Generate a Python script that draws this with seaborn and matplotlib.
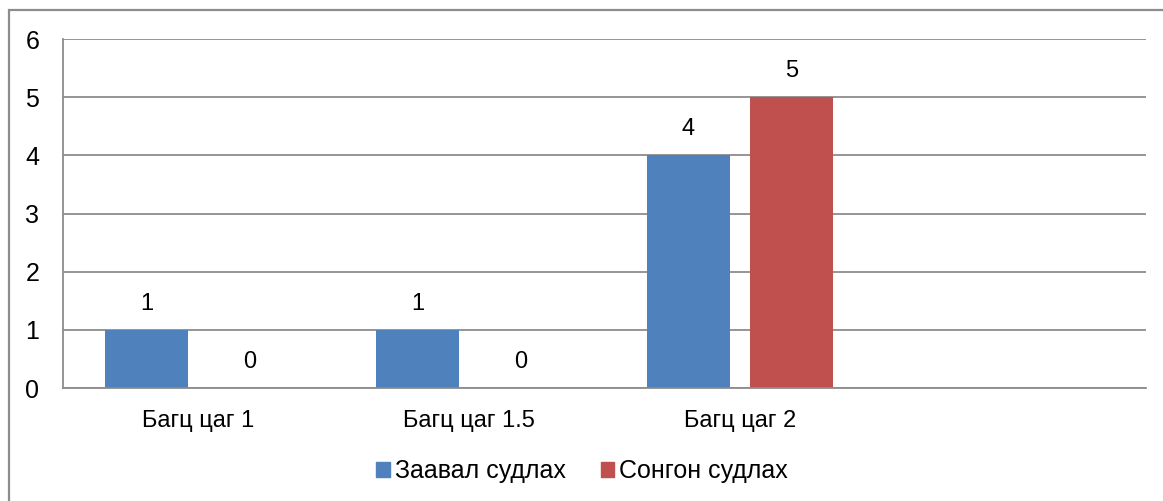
import matplotlib
matplotlib.use("Agg")
import matplotlib.pyplot as plt
import matplotlib.patches as mpatches
import seaborn as sns
import pandas as pd

# chart data
categories = ["Багц цаг 1", "Багц цаг 1.5", "Багц цаг 2"]
series_names = ["Заавал судлах", "Сонгон судлах"]
required = [1, 1, 4]
elective = [0, 0, 5]
y_ticks = [0, 1, 2, 3, 4, 5, 6]

colors = ["#4F81BD", "#C0504D"]
grid_color = "#8C8C8C"

sns.set_theme(style="white")
plt.rcParams["font.family"] = ["Liberation Sans", "DejaVu Sans"]
plt.rcParams["text.color"] = "black"
plt.rcParams["xtick.color"] = "black"
plt.rcParams["ytick.color"] = "black"

df = pd.DataFrame({
    "category": categories * 2,
    "series": [series_names[0]] * len(categories) + [series_names[1]] * len(categories),
    "value": required + elective,
})

fig = plt.figure(figsize=(11.63, 5.01), dpi=100)
# outer chart border (right and bottom run off the picture)
fig.patches.append(mpatches.Rectangle((9 / 1163, -0.5), 2.0, 0.5 + (501 - 10) / 501,
                                      transform=fig.transFigure, fill=False,
                                      edgecolor=grid_color, linewidth=1.6))

ax = fig.add_axes([63 / 1163, (501 - 388) / 501, 1083 / 1163, 349 / 501])
sns.barplot(data=df, x="category", y="value", hue="series", order=categories,
            hue_order=series_names, palette=colors, width=0.761, gap=0.194,
            saturation=1, linewidth=0, legend=False, ax=ax)

ax.set_xlim(-0.5, 3.5)
ax.set_ylim(0, 6)
ax.set_yticks(y_ticks)
ax.yaxis.grid(True, color=grid_color, linewidth=1.3)
ax.set_axisbelow(True)
ax.set_xlabel("")
ax.set_ylabel("")
ax.tick_params(axis="y", labelsize=18, pad=17, length=0)
ax.tick_params(axis="x", labelsize=17, pad=16, length=0)
for side in ["top", "right"]:
    ax.spines[side].set_visible(False)
for side in ["left", "bottom"]:
    ax.spines[side].set_color(grid_color)
    ax.spines[side].set_linewidth(1.3)

for cont in ax.containers:
    ax.bar_label(cont, fmt="%d", padding=11, fontsize=17, color="black")

handles = [mpatches.Patch(color=c, label=n) for c, n in zip(colors, series_names)]
fig.legend(handles=handles, loc="center", bbox_to_anchor=(582 / 1163, 30 / 501),
           ncol=2, frameon=False, fontsize=18, handlelength=0.55, handleheight=0.55,
           handletextpad=0.2, columnspacing=1.4)

fig.savefig("out.png", dpi=100)
